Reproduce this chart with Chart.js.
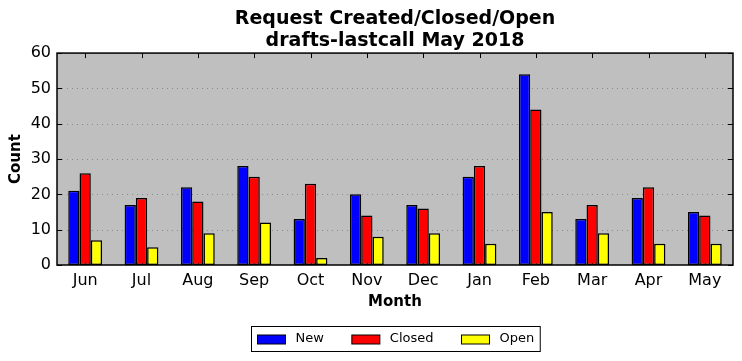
<!DOCTYPE html>
<html>
<head>
<meta charset="utf-8">
<script src="https://cdn.jsdelivr.net/npm/chart.js@4/dist/chart.umd.min.js"></script>
<style>
  html, body { margin: 0; padding: 0; background: #fff; }
  #wrap { width: 742px; height: 361px; }
</style>
</head>
<body>
<div id="wrap"><canvas id="chart" width="742" height="361"></canvas></div>
<script>
// --- data ---
const months = ['Jun', 'Jul', 'Aug', 'Sep', 'Oct', 'Nov', 'Dec', 'Jan', 'Feb', 'Mar', 'Apr', 'May'];
const newCounts = [21, 17, 22, 28, 13, 20, 17, 25, 54, 13, 19, 15];
const closedCounts = [26, 19, 18, 25, 23, 14, 16, 28, 44, 17, 22, 14];
const openCounts = [7, 5, 9, 12, 2, 8, 9, 6, 15, 9, 6, 6];
const yTicks = [0, 10, 20, 30, 40, 50, 60];

const FONT = "'DejaVu Sans', sans-serif";

// grey background, dotted grid, inward ticks, frame
const framePlugin = {
    id: 'frame',
    beforeDatasetsDraw(chart) {
        const { ctx, chartArea: a } = chart;
        const x = chart.scales.x, y = chart.scales.y;
        ctx.save();
        ctx.fillStyle = '#bfbfbf';
        ctx.fillRect(a.left, a.top, a.right - a.left, a.bottom - a.top);
        ctx.strokeStyle = '#8a8a8a';
        ctx.lineWidth = 1;
        ctx.setLineDash([1, 4]);
        yTicks.forEach(v => {
            if (v === 0 || v === 60) return;
            const py = Math.round(y.getPixelForValue(v)) + 0.5;
            ctx.beginPath();
            ctx.moveTo(a.left, py);
            ctx.lineTo(a.right, py);
            ctx.stroke();
        });
        ctx.setLineDash([]);
        ctx.strokeStyle = '#000';
        ctx.beginPath();
        months.forEach((m, i) => {
            const px = Math.round(x.getPixelForValue(i)) + 0.5;
            ctx.moveTo(px, a.bottom); ctx.lineTo(px, a.bottom - 5);
        });
        ctx.stroke();
        ctx.restore();
    },
    afterDatasetsDraw(chart) {
        const { ctx, chartArea: a } = chart;
        const x = chart.scales.x, y = chart.scales.y;
        ctx.save();
        ctx.strokeStyle = '#000';
        ctx.lineWidth = 1;
        ctx.beginPath();
        months.forEach((m, i) => {
            const px = Math.round(x.getPixelForValue(i)) + 0.5;
            ctx.moveTo(px, a.top); ctx.lineTo(px, a.top + 5);
        });
        yTicks.forEach(v => {
            const py = Math.round(y.getPixelForValue(v)) + 0.5;
            ctx.moveTo(a.left, py); ctx.lineTo(a.left + 5, py);
            ctx.moveTo(a.right, py); ctx.lineTo(a.right - 5, py);
        });
        ctx.stroke();
        ctx.lineWidth = 1.5;
        ctx.strokeRect(a.left, a.top, a.right - a.left, a.bottom - a.top);
        ctx.restore();
    }
};

// boxed legend under the axis title
const boxLegend = {
    id: 'boxLegend',
    afterDraw(chart) {
        const { ctx, chartArea: a } = chart;
        const items = chart.data.datasets;
        ctx.save();
        ctx.font = '13px ' + FONT;
        const sw = 28, sh = 9, gapText = 10, gapItem = 28, padX = 6;
        let total = padX * 2;
        const widths = items.map(d => ctx.measureText(d.label).width);
        widths.forEach((w, i) => { total += sw + gapText + w + (i < items.length - 1 ? gapItem : 0); });
        const cx = (a.left + a.right) / 2;
        const left = Math.round(cx - total / 2) + 0.5;
        const top = 326.5, h = 25;
        ctx.strokeStyle = '#000';
        ctx.lineWidth = 1;
        ctx.fillStyle = '#fff';
        ctx.fillRect(left, top, total, h);
        ctx.strokeRect(left, top, total, h);
        let xx = left + padX;
        const midY = top + h / 2;
        items.forEach((d, i) => {
            ctx.fillStyle = d.backgroundColor;
            ctx.fillRect(xx, Math.round(midY - sh / 2), sw, sh);
            ctx.strokeRect(xx, Math.round(midY - sh / 2), sw, sh);
            xx += sw + gapText;
            ctx.fillStyle = '#000';
            ctx.textBaseline = 'middle';
            ctx.fillText(d.label, xx, midY);
            xx += widths[i] + gapItem;
        });
        ctx.restore();
    }
};

const barStyle = { borderColor: '#000', borderWidth: 1.5, borderSkipped: false };

new Chart(document.getElementById('chart'), {
    type: 'bar',
    data: {
        labels: months,
        datasets: [
            { label: 'New', data: newCounts, backgroundColor: '#0000ff', ...barStyle },
            { label: 'Closed', data: closedCounts, backgroundColor: '#ff0000', ...barStyle },
            { label: 'Open', data: openCounts, backgroundColor: '#ffff00', ...barStyle }
        ]
    },
    options: {
        responsive: false,
        animation: false,
        devicePixelRatio: 1,
        layout: { padding: { left: 0, right: 9, top: 0, bottom: 0 } },
        datasets: { bar: { categoryPercentage: 0.6, barPercentage: 1.0 } },
        plugins: {
            legend: { display: false },
            tooltip: { enabled: false },
            title: {
                display: true,
                fullSize: false,
                text: ['Request Created/Closed/Open', 'drafts-lastcall May 2018'],
                color: '#000',
                font: { family: FONT, size: 19, weight: 'bold', lineHeight: 1.16 },
                padding: { top: 8, bottom: 1 }
            }
        },
        scales: {
            x: {
                offset: true,
                grid: { display: false, drawTicks: false },
                border: { display: false },
                ticks: { color: '#000', font: { family: FONT, size: 16 }, padding: 6, maxRotation: 0 },
                title: {
                    display: true, text: 'Month', color: '#000',
                    font: { family: FONT, size: 15, weight: 'bold' },
                    padding: { top: 50, bottom: 50 }
                },
                afterFit(s) { s.height = 96; }
            },
            y: {
                min: 0, max: 60,
                grid: { display: false, drawTicks: false },
                border: { display: false },
                afterBuildTicks(s) { s.ticks = yTicks.map(v => ({ value: v })); },
                ticks: { color: '#000', font: { family: FONT, size: 16 }, padding: 6 },
                title: {
                    display: true, text: 'Count', color: '#000',
                    font: { family: FONT, size: 15, weight: 'bold' },
                    padding: { top: 7, bottom: 0 }
                },
                afterFit(s) { s.width = 57; }
            }
        }
    },
    plugins: [framePlugin, boxLegend]
});
</script>
</body>
</html>
